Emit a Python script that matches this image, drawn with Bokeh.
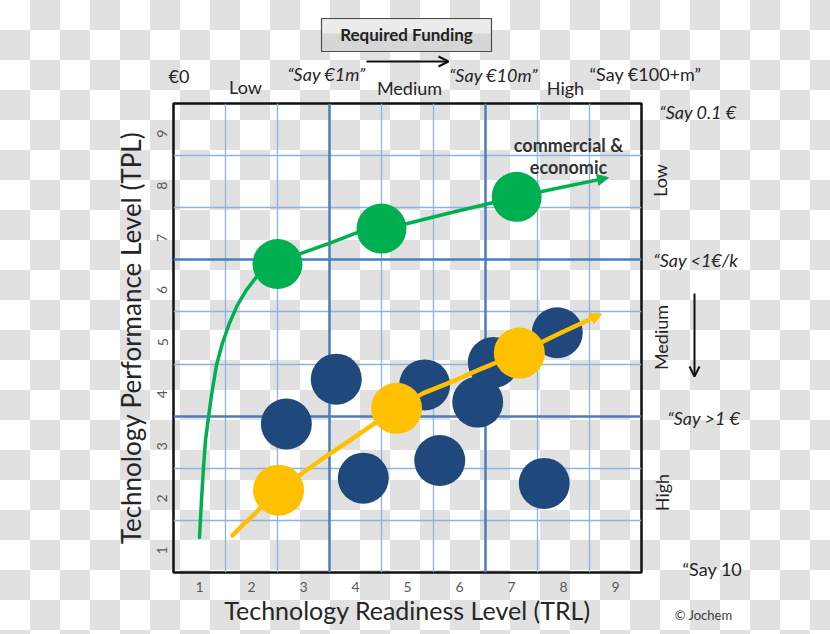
import math
from bokeh.plotting import figure
from bokeh.models import (FixedTicker, Grid, Label, Arrow, NormalHead, OpenHead,
                          InlineStyleSheet, Row, Column, Range1d)
from bokeh.core.properties import value
from bokeh.embed import file_html
from bokeh.resources import INLINE

# ---------------- data ----------------
trl_ticks = [1, 2, 3, 4, 5, 6, 7, 8, 9]
tpl_ticks = [1, 2, 3, 4, 5, 6, 7, 8, 9]
minor_lines = [1.5, 2.5, 4.5, 5.5, 7.5, 8.5]
major_lines = [3.5, 6.5]

green_x = [2.5, 4.5, 7.1]
green_y = [6.42, 7.1, 7.71]

navy_x = [2.67, 3.63, 5.33, 4.15, 5.62, 6.35, 6.65, 7.88, 7.63]
navy_y = [3.35, 4.21, 4.10, 2.31, 2.65, 3.77, 4.53, 5.10, 2.21]

yellow_x = [2.52, 4.79, 7.15]
yellow_y = [2.08, 3.65, 4.71]

green_curve_x = [1.0, 1.038, 1.077, 1.115, 1.173, 1.231, 1.327, 1.442, 1.577, 1.731, 1.904,
                 2.096, 2.269, 2.5, 2.981, 3.519, 4.019, 4.5, 4.981, 5.827, 6.635, 7.096,
                 7.558, 8.865]
green_curve_y = [1.173, 1.885, 2.519, 3.038, 3.481, 3.904, 4.481, 4.904, 5.288, 5.635, 5.923,
                 6.173, 6.308, 6.423, 6.635, 6.827, 7.019, 7.115, 7.192, 7.404, 7.596, 7.712,
                 7.808, 8.077]

yellow_curve_x = [1.635, 1.846, 2.077, 2.288, 2.519, 3.0, 3.519, 4.038, 4.788, 5.308, 5.885,
                  6.404, 7.154, 7.942, 8.731]
yellow_curve_y = [1.212, 1.423, 1.635, 1.885, 2.077, 2.423, 2.788, 3.135, 3.654, 3.942, 4.173,
                  4.404, 4.712, 5.096, 5.462]

funding_labels = ["€0", "Low", "“Say €1m”", "Medium", "“Say €10m”", "High", "“Say €100+m”"]
cost_labels = ["“Say 0.1 €", "Low", "“Say <1€/k", "Medium", "“Say >1 €", "High", "“Say 10"]

GREEN = "#00b050"
NAVY = "#1f497d"
YELLOW = "#ffc000"
FONT = "Lato"
TXT = "#262626"
SPLIT = 99  # page row where the top band ends


# pixel -> data helpers (same data system as the main plot, for placement only)
def dx(px):
    return (px - 173) / 52 + 0.5


def dy(py):
    return (572 - py) / 52 + 0.5


# ---------------- main plot ----------------
p = figure(width=644, height=634 - SPLIT, x_range=(0.5, 9.5), y_range=(0.5, 9.5),
           output_backend="svg", toolbar_location=None, frame_align=False,
           min_border_left=173, min_border_right=3, min_border_top=103 - SPLIT,
           min_border_bottom=62,
           border_fill_color=None, background_fill_color=None,
           outline_line_color="#111111", outline_line_width=2.5)

p.xaxis.ticker = FixedTicker(ticks=trl_ticks)
p.yaxis.ticker = FixedTicker(ticks=tpl_ticks)
for ax in (p.xaxis[0], p.yaxis[0]):
    ax.axis_line_color = None
    ax.major_tick_line_color = None
    ax.minor_tick_line_color = None
    ax.major_tick_out = 0
    ax.major_tick_in = 0
    ax.major_label_text_font = FONT
    ax.major_label_text_font_size = "14px"
    ax.major_label_text_color = "#595959"
    ax.axis_label_text_font = FONT
    ax.axis_label_text_font_style = "normal"
    ax.axis_label_text_color = TXT
p.xaxis.axis_label = "Technology Readiness Level (TRL)"
p.yaxis.axis_label = "Technology Performance Level (TPL)"
p.xaxis.axis_label_text_font_size = "25px"
p.yaxis.axis_label_text_font_size = "26px"
p.xaxis.major_label_standoff = 9
p.xaxis.axis_label_standoff = 0
p.yaxis.major_label_standoff = 11
p.yaxis.major_label_orientation = math.pi / 2
p.yaxis.axis_label_standoff = 3

p.xgrid.ticker = FixedTicker(ticks=minor_lines)
p.ygrid.ticker = FixedTicker(ticks=minor_lines)
p.xgrid.grid_line_color = "#8db3e2"
p.ygrid.grid_line_color = "#8db3e2"
p.xgrid.grid_line_width = 1.3
p.ygrid.grid_line_width = 1.3
p.add_layout(Grid(dimension=0, ticker=FixedTicker(ticks=major_lines),
                  grid_line_color="#4a7ebb", grid_line_width=2.5))
p.add_layout(Grid(dimension=1, ticker=FixedTicker(ticks=major_lines),
                  grid_line_color="#4a7ebb", grid_line_width=2.5))

p.line(green_curve_x[:-1], green_curve_y[:-1], line_color=GREEN, line_width=3.5,
       line_join="round", line_cap="round")
p.add_layout(Arrow(end=NormalHead(size=11, fill_color=GREEN, line_color=GREEN),
                   x_start=green_curve_x[-2], y_start=green_curve_y[-2],
                   x_end=green_curve_x[-1], y_end=green_curve_y[-1],
                   line_color=GREEN, line_width=3.5))
p.scatter(green_x, green_y, size=50, fill_color=GREEN, line_color=None)

p.scatter(navy_x, navy_y, size=51, fill_color=NAVY, line_color=None)

p.line(yellow_curve_x[:-1], yellow_curve_y[:-1], line_color=YELLOW, line_width=4.5,
       line_join="round", line_cap="round")
p.add_layout(Arrow(end=NormalHead(size=11, fill_color=YELLOW, line_color=YELLOW),
                   x_start=yellow_curve_x[-2], y_start=yellow_curve_y[-2],
                   x_end=yellow_curve_x[-1], y_end=yellow_curve_y[-1],
                   line_color=YELLOW, line_width=4.5))
p.scatter(yellow_x, yellow_y, size=51, fill_color=YELLOW, line_color=None)

for t, py in (("commercial &", 145), ("economic", 167)):
    p.add_layout(Label(x=dx(568), y=dy(py), text=t, text_align="center", text_baseline="middle",
                       text_font=FONT, text_font_size="18px", text_font_style="bold",
                       text_color="#333333"))


def band(width, height, x0, x1, y0, y1):
    f = figure(width=width, height=height, x_range=Range1d(dx(x0), dx(x1)),
               y_range=Range1d(dy(y1), dy(y0)), x_axis_type=None, y_axis_type=None,
               output_backend="svg", toolbar_location=None, min_border=0, frame_align=False,
               border_fill_color=None, background_fill_color=None, outline_line_color=None)
    return f


def txt(f, text, px, py, align="center", size="18px", style="normal", angle=0, color=TXT):
    f.text(x=[dx(px)], y=[dy(py)], text=[text], text_align=align, text_baseline="middle",
           text_font=value(FONT), text_font_size=size, text_font_style=style,
           angle=angle, text_color=color)


# ---------------- top band (funding) ----------------
top = band(830, SPLIT, 0, 830, 0, SPLIT)
top.quad(left=[dx(321)], right=[dx(491)], top=[dy(18)], bottom=[dy(51)],
         fill_color="#d6d6d6", line_color="#4d4d4d", line_width=1.2)
top.quad(left=[dx(322)], right=[dx(490)], top=[dy(19)], bottom=[dy(33)],
         fill_color="#ececec", line_color=None)
txt(top, "Required Funding", 406, 34, size="17px", style="bold", color="#222222")
top.add_layout(Arrow(end=OpenHead(size=10, line_color="#111111", line_width=2),
                     x_start=dx(366), y_start=dy(61), x_end=dx(448), y_end=dy(61),
                     line_color="#111111", line_width=2))
top_pos = [(168, 75, "left", "normal"), (245, 86, "center", "normal"), (326, 73, "center", "italic"),
           (409, 87, "center", "normal"), (493, 74, "center", "italic"), (565, 87, "center", "normal"),
           (645, 73, "center", "normal")]
for t, (px, py, al, st) in zip(funding_labels, top_pos):
    txt(top, t, px, py, align=al, style=st)

# ---------------- right band (cost) ----------------
right = band(186, 634 - SPLIT, 644, 830, SPLIT, 634)
right_pos = [(659, 111, "left", "italic", 0), (659, 180, "center", "normal", math.pi / 2),
             (653, 259, "left", "italic", 0), (660, 337, "center", "normal", math.pi / 2),
             (667, 417, "left", "italic", 0), (661, 492, "center", "normal", math.pi / 2),
             (682, 568, "left", "normal", 0)]
for t, (px, py, al, st, an) in zip(cost_labels, right_pos):
    txt(right, t, px, py, align=al, style=st, angle=an)
right.add_layout(Arrow(end=OpenHead(size=10, line_color="#111111", line_width=2),
                       x_start=dx(694), y_start=dy(293), x_end=dx(694), y_end=dy(376),
                       line_color="#111111", line_width=2))
txt(right, "© Jochem", 732, 614, align="right", size="13px", color="#404040")

checker = InlineStyleSheet(css=":host { background-color: #ffffff; "
                               "background-image: repeating-conic-gradient(#e1e1e1 0 25%, #ffffff 0 50%); "
                               "background-size: 60px 60px; background-position: 0 0; }")
layout = Column(children=[top, Row(children=[p, right], spacing=0)],
                spacing=0, stylesheets=[checker])

open("out.html", "w").write(file_html(layout, INLINE))
